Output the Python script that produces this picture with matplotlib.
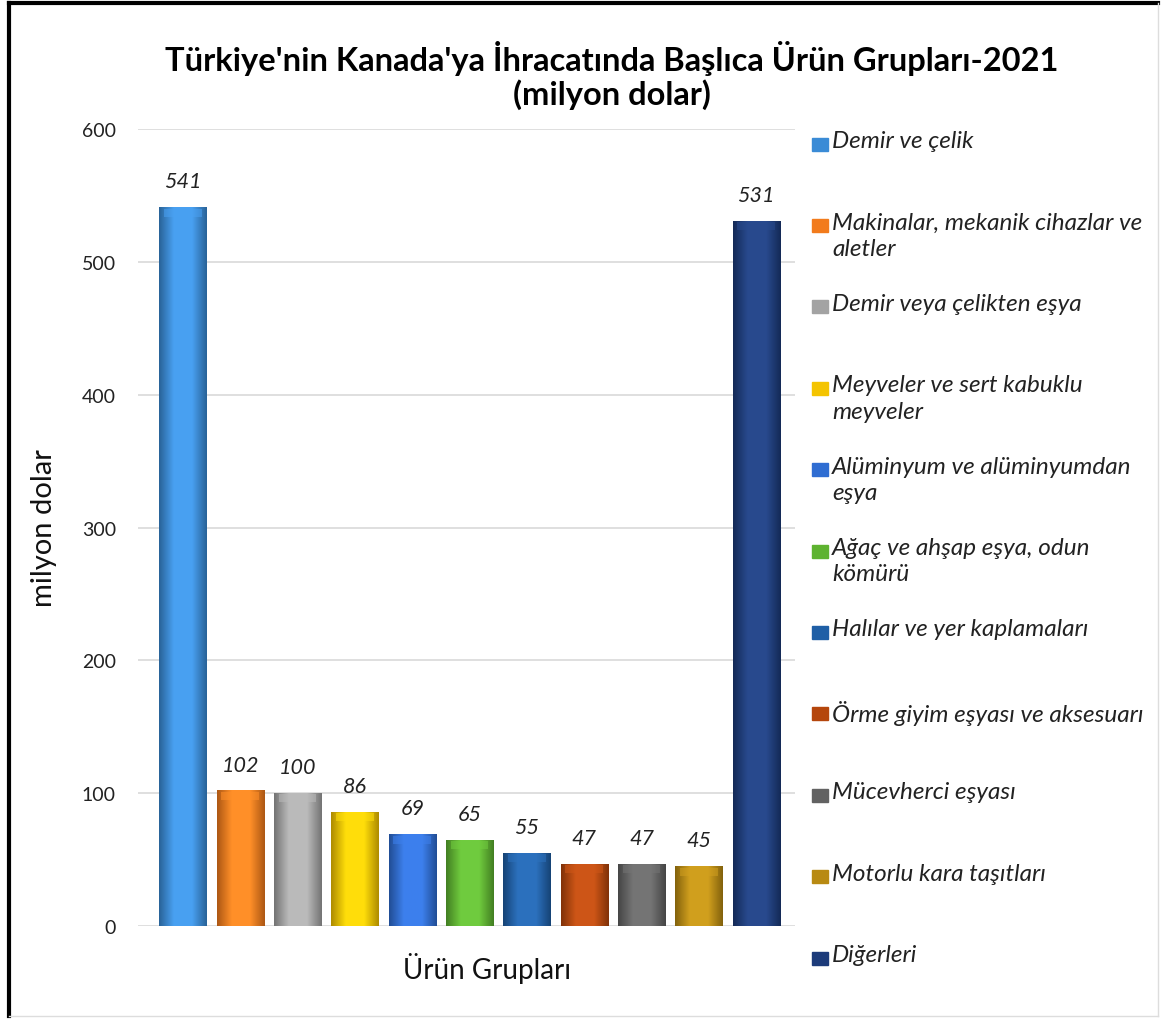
import matplotlib.pyplot as plt
import matplotlib.colors as mcolors
from matplotlib.patches import Rectangle
from matplotlib.lines import Line2D
import numpy as np

# --- data ---
categories = [
    "Demir ve çelik",
    "Makinalar, mekanik cihazlar ve\naletler",
    "Demir veya çelikten eşya",
    "Meyveler ve sert kabuklu\nmeyveler",
    "Alüminyum ve alüminyumdan\neşya",
    "Ağaç ve ahşap eşya, odun\nkömürü",
    "Halılar ve yer kaplamaları",
    "Örme giyim eşyası ve aksesuarı",
    "Mücevherci eşyası",
    "Motorlu kara taşıtları",
    "Diğerleri",
]
values = [541, 102, 100, 86, 69, 65, 55, 47, 47, 45, 531]
colors = ["#3A8BD6", "#F27B1C", "#A3A3A3", "#F4C400", "#2F6DD2", "#5EB330",
          "#1F5FA6", "#B5460C", "#626262", "#B88A12", "#1C3B7A"]

plt.rcParams['font.family'] = ['Lato', 'DejaVu Sans']

fig = plt.figure(figsize=(11.61, 10.2), dpi=100)
ax = fig.add_axes([0.119, 0.0912, 0.566, 0.7813])

x = np.arange(len(values))
w = 0.82
bars = ax.bar(x, values, w, color=colors, zorder=2, linewidth=0)

# bevel look: horizontal gradient clipped to each bar
grad = np.concatenate([np.linspace(0, 1, 20), np.linspace(1, 0, 20)])
for b, c in zip(bars, colors):
    rgb = np.array(mcolors.to_rgb(c))
    dark = rgb * 0.72
    light = np.minimum(rgb * 1.08 + 0.04, 1)
    img = dark[None, :] + (light - dark)[None, :] * np.clip(grad * 1.6, 0, 1)[:, None]
    x0, y0, bw, bh = b.get_x(), b.get_y(), b.get_width(), b.get_height()
    im = ax.imshow(img[None, :, :], extent=[x0, x0 + bw, y0, y0 + bh],
                   aspect='auto', zorder=3, interpolation='bilinear')
    im.set_clip_path(b)
    # lighter cap on top
    ax.add_patch(Rectangle((x0 + bw * 0.1, y0 + bh - 7), bw * 0.8, 6,
                           color=light, alpha=0.55, zorder=4, lw=0))

for xi, v in zip(x, values):
    ax.text(xi, v + 12, str(v), ha='center', va='bottom', fontsize=15.5,
            style='italic', color='#222222')

ax.set_xlim(-0.78, 10.68)
ax.set_ylim(0, 600)
ax.set_yticks(range(0, 601, 100))
ax.set_xticks([])
ax.tick_params(axis='y', length=0, labelsize=14, pad=16, colors='#222222')
ax.grid(axis='y', color='#d9d9d9', lw=1.2, zorder=0)
for s in ax.spines.values():
    s.set_visible(False)
ax.set_ylabel("milyon dolar", fontsize=21, color='#111111')
ax.yaxis.set_label_coords(-0.123, 0.5)
ax.set_xlabel("Ürün Grupları", fontsize=20, color='#111111')
ax.xaxis.set_label_coords(0.531, -0.033)

fig.text(0.527, 0.926, "Türkiye'nin Kanada'ya İhracatında Başlıca Ürün Grupları-2021\n(milyon dolar)",
         ha='center', va='center', fontsize=23.5, weight='bold', linespacing=1.15)

# legend drawn on its own axes, evenly spaced entries
lax = fig.add_axes([0.69, 0.05, 0.30, 0.83])
lax.set_xlim(0, 1)
lax.set_ylim(0, 1)
lax.axis('off')
top_y = 1 - 145 / 1020
step = 81.4 / 1020
for i, (lab, c) in enumerate(zip(categories, colors)):
    yy = top_y - i * step
    ly = (yy - 0.05) / 0.83
    lax.add_patch(Rectangle((0.031, ly - 0.0077), 0.046, 0.0153, color=c,
                            transform=lax.transAxes, clip_on=False))
    lax.text(0.089, ly + 0.0165, lab, ha='left', va='top', fontsize=17.5,
             style='italic', color='#222222', linespacing=1.32,
             transform=lax.transAxes)

# figure border
fig.add_artist(Line2D([0.008, 0.008], [0.003, 0.996], color='black', lw=3))
fig.add_artist(Line2D([0.008, 0.997], [0.996, 0.996], color='black', lw=3))
fig.add_artist(Line2D([0.997, 0.997], [0.003, 0.996], color='#dddddd', lw=1))
fig.add_artist(Line2D([0.008, 0.997], [0.003, 0.003], color='#dddddd', lw=1))

fig.savefig("out.png", dpi=100)
